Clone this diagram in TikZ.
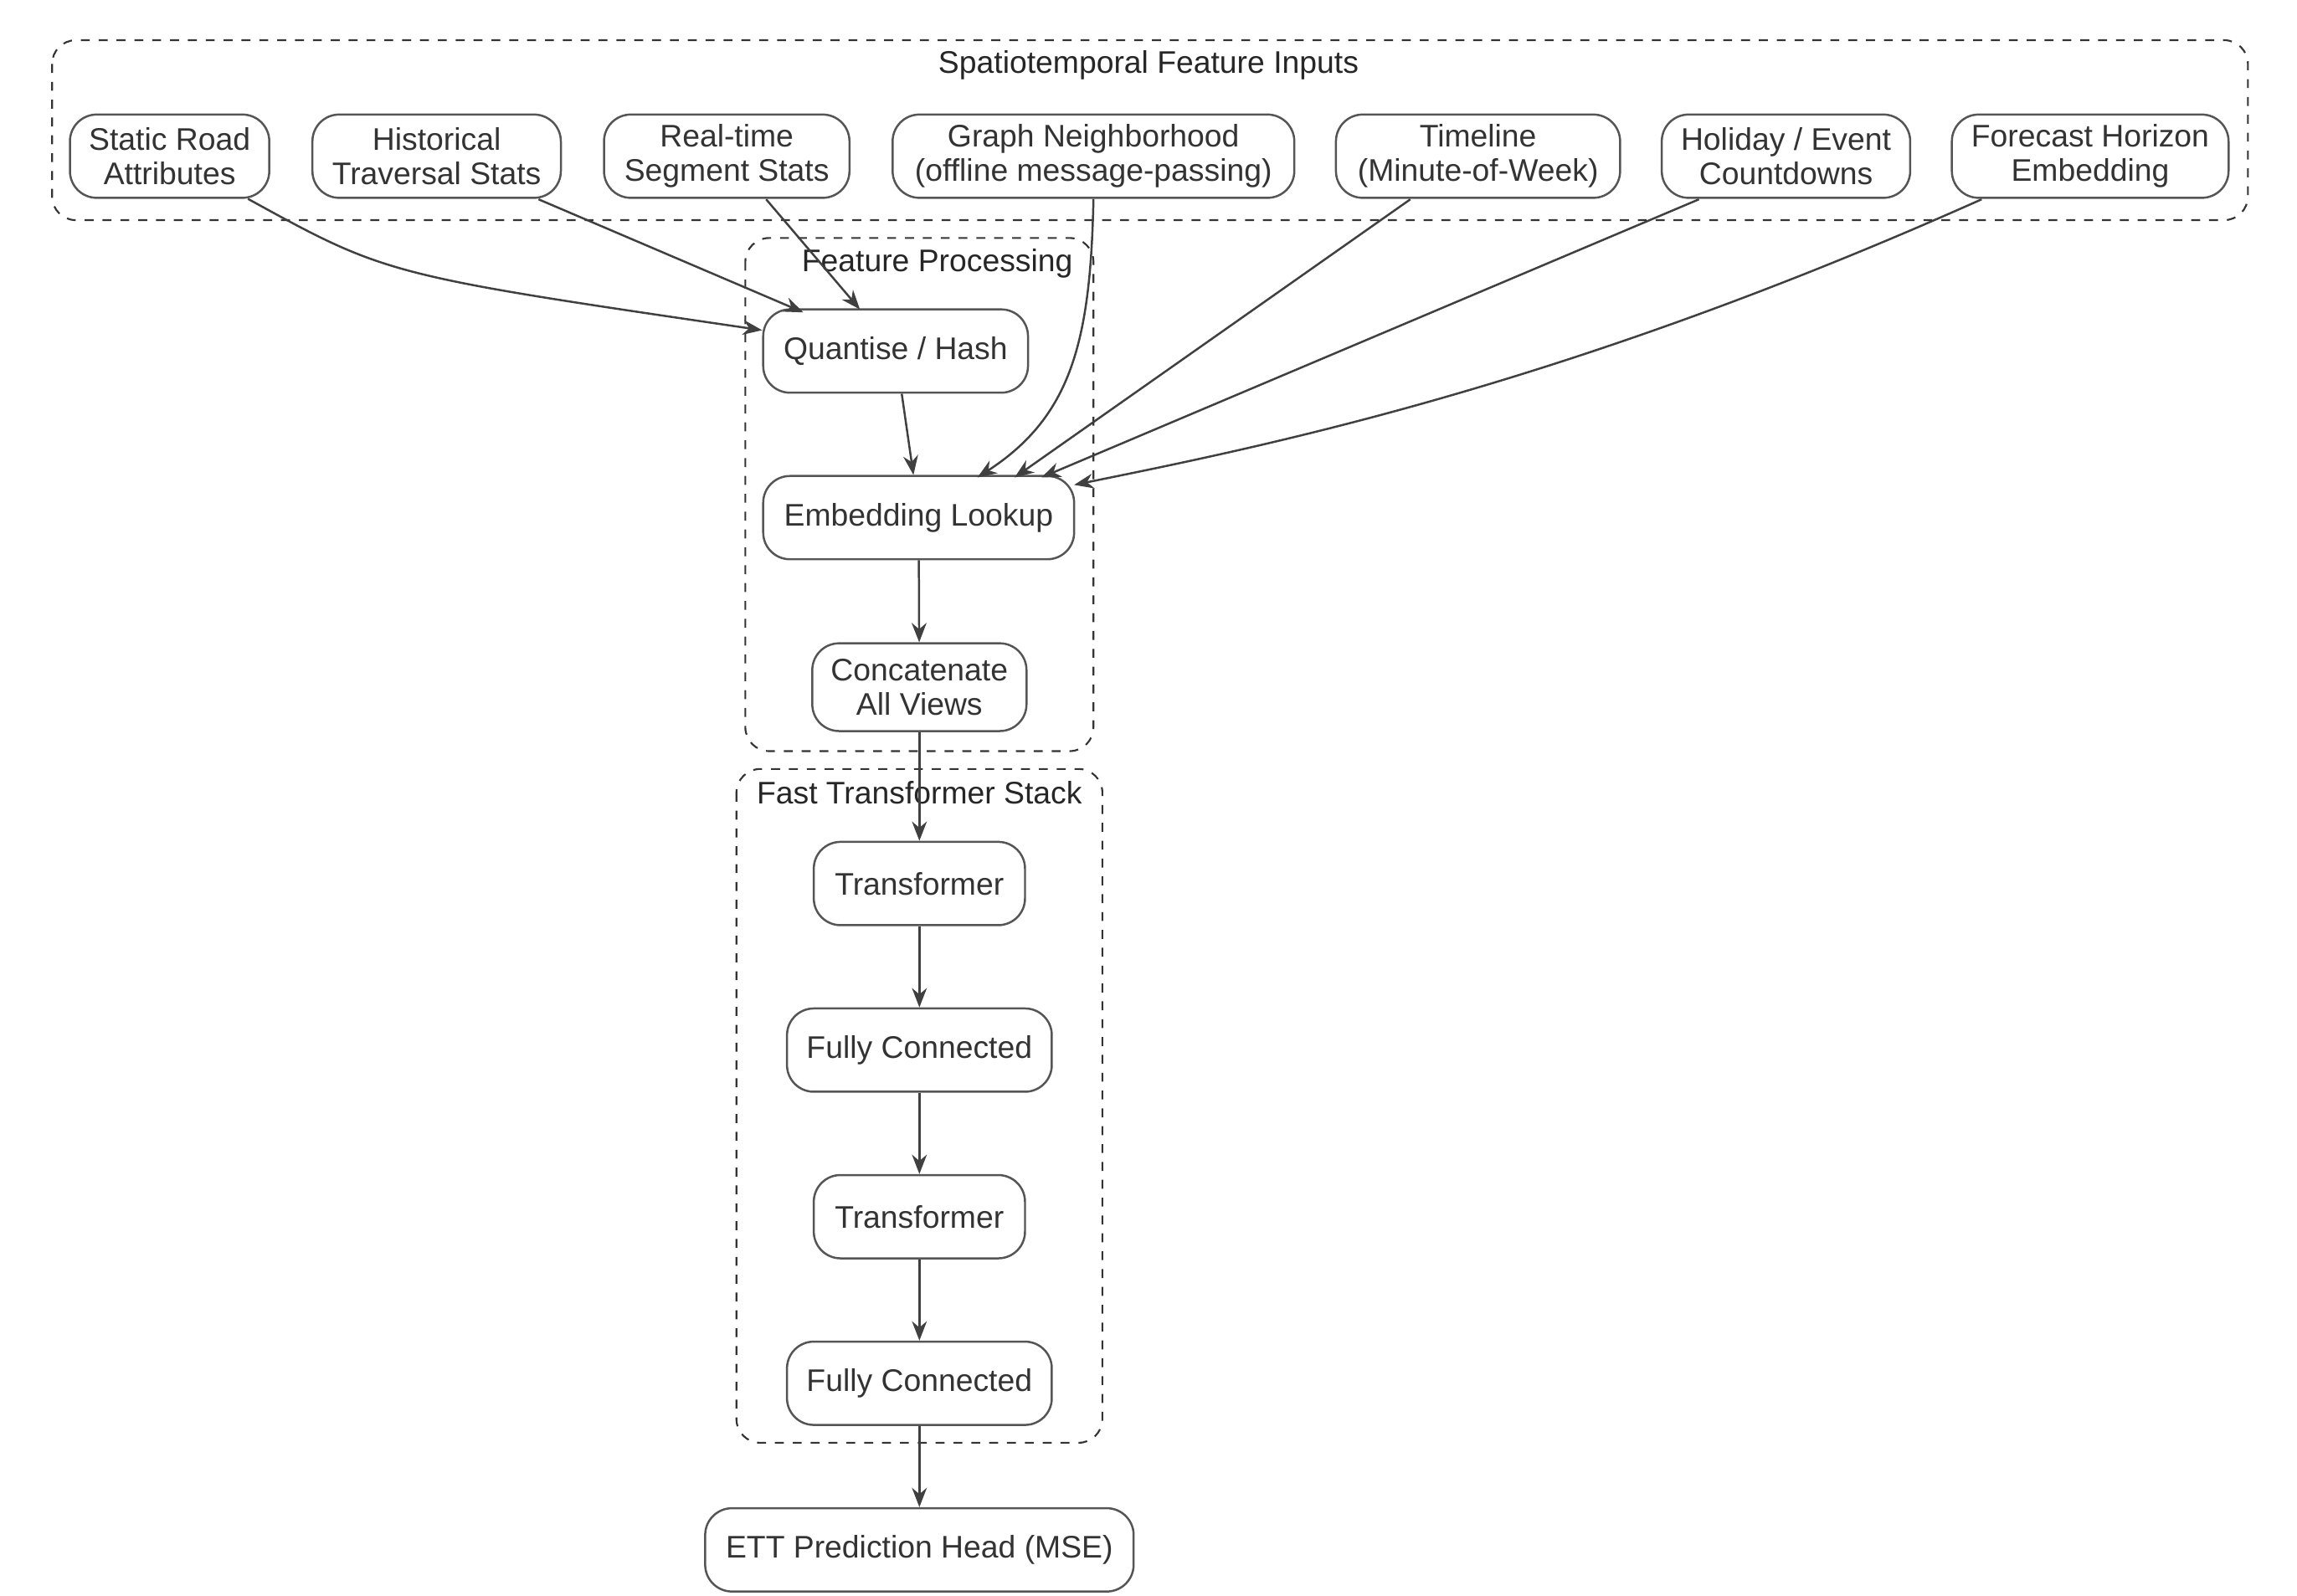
\documentclass[tikz,border=0pt]{standalone}
\usepackage{fontspec}
\setmainfont{Liberation Sans}
\usetikzlibrary{arrows.meta}
\definecolor{ln}{HTML}{555555}
\definecolor{tx}{HTML}{333333}
\begin{document}
\begin{tikzpicture}[x=0.5pt,y=-0.5pt,
  box/.style={draw=ln,line width=0.7pt,rounded corners=9pt,align=center,text=tx,
    font=\fontsize{10.5}{11.5}\selectfont,minimum height=28pt,inner sep=2pt},
  clus/.style={draw=black!80,dashed,line width=0.6pt,rounded corners=8pt},
  ttl/.style={text=black!85,font=\fontsize{10.5}{11.5}\selectfont},
  arr/.style={draw=black!75,line width=0.7pt,-{Stealth[length=6.5pt,width=5pt]}}]
\useasboundingbox (0,0) rectangle (1544,1073);
\draw[clus] (35,27) rectangle (1511,148);
\node[ttl] (t1) at (772,44) {Spatiotemporal Feature Inputs};
\draw[clus] (501,160) rectangle (735,505);
\node[ttl] (t2) at (630,177) {Feature Processing};
\draw[clus] (495,517) rectangle (741,970);
\node[ttl] (t3) at (618,533) {Fast Transformer Stack};
\node[box,minimum width=67pt] (a) at (114,105) {Static Road\\Attributes};
\node[box,minimum width=83.5pt] (b) at (293.5,105) {Historical\\Traversal Stats};
\node[box,minimum width=82.5pt] (c) at (488.5,105) {Real-time\\Segment Stats};
\node[box,minimum width=135pt] (d) at (735,105) {Graph Neighborhood\\(offline message-passing)};
\node[box,minimum width=95.5pt] (e) at (993.5,105) {Timeline\\(Minute-of-Week)};
\node[box,minimum width=83.5pt] (f) at (1200.5,105) {Holiday / Event\\Countdowns};
\node[box,minimum width=93pt] (g) at (1405,105) {Forecast Horizon\\Embedding};
\node[box,minimum width=89pt] (q) at (602,236) {Quantise / Hash};
\node[box,minimum width=104.5pt] (m) at (617.5,348) {Embedding Lookup};
\node[box,minimum width=72pt,minimum height=29.5pt] (k) at (618,462) {Concatenate\\All Views};
\node[box,minimum width=71pt] (x1) at (618,594) {Transformer};
\node[box,minimum width=89pt] (y1) at (618,706) {Fully Connected};
\node[box,minimum width=71pt] (x2) at (618,818) {Transformer};
\node[box,minimum width=89pt] (y2) at (618,930) {Fully Connected};
\node[box,minimum width=144pt] (h) at (618,1042) {ETT Prediction Head (MSE)};
\draw[arr] (a.south east) ++(-15,0) .. controls (260,185) .. (q.west |- 0,222);
\draw[arr] (362,134) -- (540,210);
\draw[arr] (515,134) -- (578,208);
\draw[arr] (q) -- (m.north -| 614,0);
\draw[arr] (d.south) .. controls (733,230) and (720,280) .. (657,321);
\draw[arr] (948,134) -- (682,321);
\draw[arr] (1142,134) -- (700,321);
\draw[arr] (1332,134) .. controls (1050,260) and (850,300) .. (722,326);
\draw[arr] (m) -- (k);
\draw[arr] (k) -- (x1);
\draw[arr] (x1) -- (y1);
\draw[arr] (y1) -- (x2);
\draw[arr] (x2) -- (y2);
\draw[arr] (y2) -- (h);
\end{tikzpicture}
\end{document}
